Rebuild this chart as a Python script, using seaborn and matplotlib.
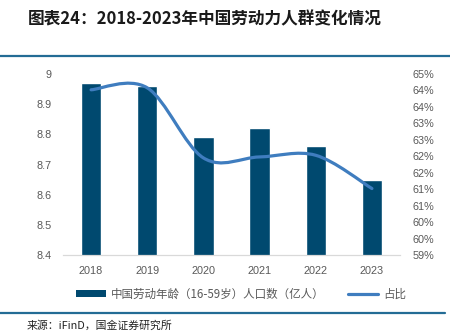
import math
import numpy as np
import pandas as pd
import matplotlib
matplotlib.use("Agg")
import matplotlib.pyplot as plt
from matplotlib.path import Path
from matplotlib.patches import PathPatch, Patch
from matplotlib.lines import Line2D
from matplotlib.ticker import FixedLocator, FuncFormatter
import seaborn as sns

# ---- data ----
years = ["2018", "2019", "2020", "2021", "2022", "2023"]
labor_pop = [8.97, 8.96, 8.79, 8.82, 8.76, 8.65]          # 亿人
labor_share = [64.02, 64.08, 61.95, 61.98, 62.03, 61.02]  # %

left_ticks = [8.4, 8.5, 8.6, 8.7, 8.8, 8.9, 9.0]
left_labels = ["8.4", "8.5", "8.6", "8.7", "8.8", "8.9", "9"]
right_ticks = [59.0, 59.5, 60.0, 60.5, 61.0, 61.5, 62.0, 62.5, 63.0, 63.5, 64.0, 64.5]

bar_label = "中国劳动年龄（16-59岁）人口数（亿人）"
line_label = "占比"
title = "图表24：2018-2023年中国劳动力人群变化情况"
source = "来源：iFinD，国金证券研究所"

BAR_C = "#00496F"
LINE_C = "#3F7DBF"
RULE_C = "#236C95"
TICK_C = "#595959"

sns.set_theme(style="white")
plt.rcParams["font.family"] = ["Liberation Sans", "Noto Sans CJK SC", "DejaVu Sans"]
cjk = ["Noto Sans CJK SC", "DejaVu Sans"]

fig = plt.figure(figsize=(4.5, 3.33), dpi=100)
ax = fig.add_axes([63 / 450, 1 - 255 / 333, (400 - 63) / 450, (255 - 74) / 333])

df = pd.DataFrame({"year": years, "pop": labor_pop})
sns.barplot(data=df, x="year", y="pop", color=BAR_C, width=0.36,
            saturation=1, ax=ax, zorder=2)
ax.set_ylim(8.4, 9.0)
ax.set_xlim(-0.5, len(years) - 0.5)
ax.set_xlabel("")
ax.set_ylabel("")
ax.yaxis.set_major_locator(FixedLocator(left_ticks))
ax.set_yticklabels(left_labels)

for s in ["top", "left", "right"]:
    ax.spines[s].set_visible(False)
ax.spines["bottom"].set_color("#D9D9D9")
ax.spines["bottom"].set_linewidth(0.9)
ax.tick_params(axis="both", length=0, labelsize=7.8, colors=TICK_C)
ax.tick_params(axis="x", pad=8)
ax.tick_params(axis="y", pad=8)

# share of working-age population on the secondary axis, smoothed curve
ax2 = ax.twinx()
ax2.set_ylim(59.0, 64.5)
ax2.yaxis.set_major_locator(FixedLocator(right_ticks))
ax2.yaxis.set_major_formatter(FuncFormatter(lambda v, p: f"{math.floor(v + 0.5)}%"))
ax2.tick_params(axis="y", length=0, labelsize=7.8, colors=TICK_C, pad=9)
for s in ax2.spines.values():
    s.set_visible(False)
ax2.grid(False)
ax.grid(False)

xs = np.arange(len(years), dtype=float)
ys = np.asarray(labor_share, dtype=float)
pts = np.column_stack([xs, ys])
ext = np.vstack([pts[0], pts, pts[-1]])
verts = [tuple(pts[0])]
codes = [Path.MOVETO]
for i in range(len(pts) - 1):
    p0, p1, p2, p3 = ext[i], ext[i + 1], ext[i + 2], ext[i + 3]
    c1 = p1 + (p2 - p0) / 6.0
    c2 = p2 - (p3 - p1) / 6.0
    verts += [tuple(c1), tuple(c2), tuple(p2)]
    codes += [Path.CURVE4] * 3
curve = PathPatch(Path(verts, codes), facecolor="none", edgecolor=LINE_C,
                  lw=2.3, capstyle="round", joinstyle="round", zorder=3)
ax2.add_patch(curve)

# legend
handles = [Patch(facecolor=BAR_C, edgecolor="none"),
           Line2D([0], [0], color=LINE_C, lw=2.3)]
leg = fig.legend(handles, [bar_label, line_label], loc="center",
                 bbox_to_anchor=(241 / 450, 1 - 294 / 333), ncol=2,
                 frameon=False, prop={"family": cjk, "size": 8.3},
                 handlelength=2.6, handleheight=0.5, handletextpad=0.4,
                 columnspacing=2.1, borderaxespad=0)
for t in leg.get_texts():
    t.set_color(TICK_C)

# title, rules, source
fig.text(28 / 450, 1 - 19 / 333, title, family=cjk, fontsize=12,
         fontweight="bold", color="#1A1A1A", va="center", ha="left",
         style="italic")
fig.add_artist(Line2D([0, 1], [1 - 56 / 333] * 2, color=RULE_C, lw=1.6,
                      transform=fig.transFigure))
fig.add_artist(Line2D([0, 445 / 450], [1 - 313 / 333] * 2, color=RULE_C, lw=1.6,
                      transform=fig.transFigure))
fig.text(27 / 450, 1 - 326 / 333, source, family=cjk, fontsize=7.8,
         color="#222222", va="center", ha="left")

fig.savefig("out.png", dpi=100)
